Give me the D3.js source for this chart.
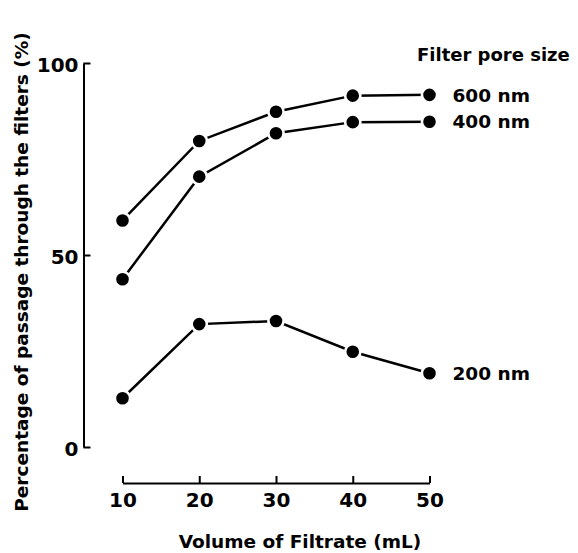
<!DOCTYPE html>
<html>
<head>
<meta charset="utf-8">
<script src="https://cdn.jsdelivr.net/npm/d3@7"></script>
<style>
  body { margin: 0; background: #fff; }
  text { font-family: "DejaVu Sans", sans-serif; font-weight: bold; fill: #000; }
</style>
</head>
<body>
<div id="chart"></div>
<script>
// Données
const volumes = [10, 20, 30, 40, 50];
const pore600 = [59, 79.7, 87.3, 91.5, 91.7];
const pore400 = [43.7, 70.4, 81.7, 84.6, 84.7];
const pore200 = [12.7, 32, 32.8, 24.8, 19.2];
const poreLabels = ["600 nm", "400 nm", "200 nm"];
const yTicks = [0, 50, 100];

const series = [pore600, pore400, pore200].map((vals, i) => ({
  label: poreLabels[i],
  values: vals.map((v, j) => ({ x: volumes[j], y: v }))
}));

//---------------------------------------------------------------------------------------

// Canevas SVG
const width = 578;
const height = 553;
const fontSize = 18.5;
const tickFont = 20;

const svg = d3.select("#chart")
  .append("svg")
  .attr("width", width)
  .attr("height", height);

//---------------------------------------------------------------------------------------

// Échelles
const scaleX = d3.scaleLinear().domain([10, 50]).range([122.5, 429.5]);
const scaleY = d3.scaleLinear().domain([0, 100]).range([447, 63]);

//---------------------------------------------------------------------------------------

// Axe des Y (ticks vers l'intérieur)
const yAxis = svg.append("g")
  .attr("transform", "translate(83.5, 0)")
  .call(d3.axisLeft(scaleY).tickValues(yTicks).tickSizeInner(-7).tickSizeOuter(0).tickPadding(5));

yAxis.select(".domain").attr("stroke-width", 2);
yAxis.selectAll(".tick line").attr("stroke-width", 2);
yAxis.selectAll(".tick text")
  .attr("dy", "0.42em")
  .style("font-size", `${tickFont}px`);

// Axe des X
const xAxis = svg.append("g")
  .attr("transform", "translate(0, 483)")
  .call(d3.axisBottom(scaleX).tickValues(volumes).tickSizeInner(-7).tickSizeOuter(0).tickPadding(10));

xAxis.select(".domain").attr("stroke-width", 2);
xAxis.selectAll(".tick line").attr("stroke-width", 2);
xAxis.selectAll(".tick text").style("font-size", `${tickFont}px`);

//---------------------------------------------------------------------------------------

// Titres des axes
svg.append("text")
  .attr("x", 300)
  .attr("y", 548)
  .attr("text-anchor", "middle")
  .style("font-size", `${fontSize}px`)
  .text("Volume of Filtrate (mL)");

svg.append("text")
  .attr("transform", "translate(28, 272) rotate(-90)")
  .attr("text-anchor", "middle")
  .style("font-size", `${fontSize}px`)
  .text("Percentage of passage through the filters (%)");

//---------------------------------------------------------------------------------------

// Courbes et points
const line = d3.line()
  .x((d) => scaleX(d.x))
  .y((d) => scaleY(d.y));

const groups = svg.selectAll(".serie")
  .data(series)
  .join("g")
  .attr("class", "serie");

groups.append("path")
  .attr("d", (d) => line(d.values))
  .attr("fill", "none")
  .attr("stroke", "#000")
  .attr("stroke-width", 2.5);

// halo blanc autour des points (petit espace entre trait et point)
groups.selectAll("circle")
  .data((d) => d.values)
  .join("circle")
  .attr("cx", (d) => scaleX(d.x))
  .attr("cy", (d) => scaleY(d.y))
  .attr("r", 7.6)
  .attr("fill", "#000")
  .attr("stroke", "#fff")
  .attr("stroke-width", 2.6);

// Étiquettes en bout de courbe
groups.append("text")
  .attr("x", (d) => scaleX(d.values[d.values.length - 1].x) + 23)
  .attr("y", (d) => scaleY(d.values[d.values.length - 1].y))
  .attr("dy", "0.36em")
  .style("font-size", `${fontSize}px`)
  .text((d) => d.label);

// Titre de la légende
svg.append("text")
  .attr("x", 417)
  .attr("y", 61)
  .style("font-size", "18px")
  .text("Filter pore size");
</script>
</body>
</html>
